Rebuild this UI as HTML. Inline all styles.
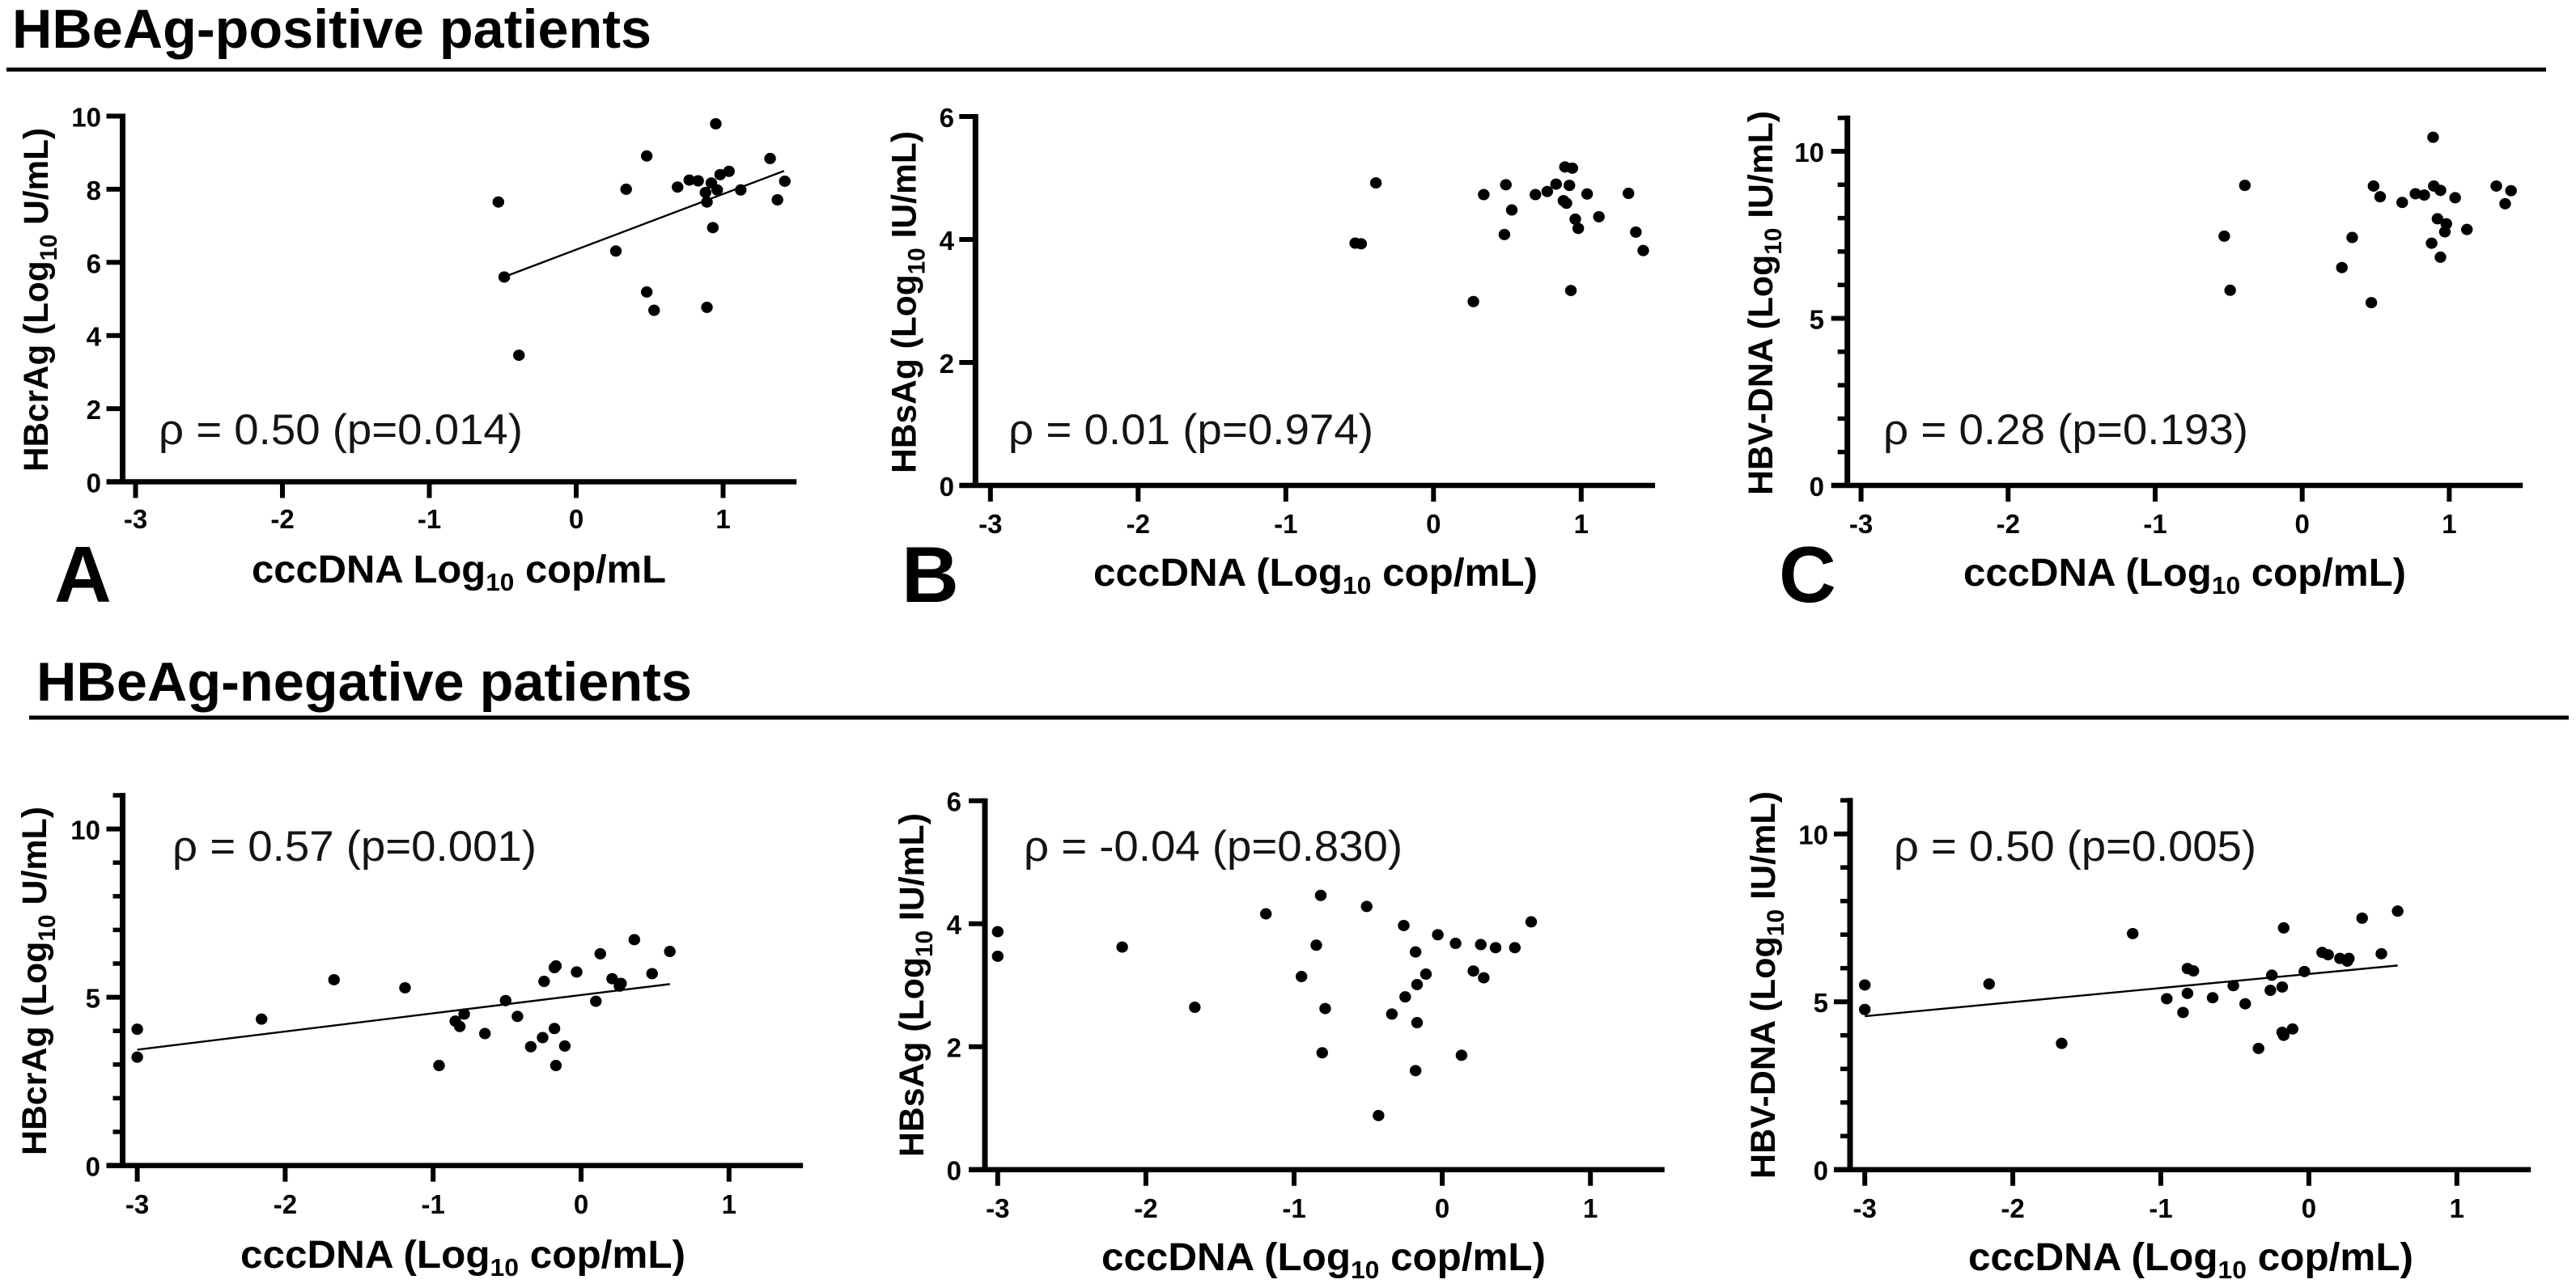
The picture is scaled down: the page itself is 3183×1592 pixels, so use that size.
<!DOCTYPE html>
<html lang="en">
<head>
<meta charset="utf-8">
<title>cccDNA correlations</title>
<style>
html,body{margin:0;padding:0;background:#fff;}
svg{display:block;}
text{font-family:"Liberation Sans",sans-serif;fill:#000;}
.head{font-weight:700;font-size:68px;}
.letter{font-weight:700;font-size:98px;}
.axt{font-weight:700;font-size:48px;}
.ayt{font-weight:700;font-size:43px;}
.axt tspan.sub{font-size:31px;}
.ayt tspan.sub{font-size:30px;}
.rho{font-size:53px;fill:#141414;}
.tick{font-weight:700;font-size:33px;}
</style>
</head>
<body>
<svg id="fig" xmlns="http://www.w3.org/2000/svg" width="3183" height="1592" viewBox="0 0 3183 1592">
<rect x="0" y="0" width="3183" height="1592" fill="#fff"/>

<text class="head" x="15" y="59" textLength="790" lengthAdjust="spacingAndGlyphs">HBeAg-positive patients</text>
<rect x="8" y="83.5" width="3138" height="5" fill="#000"/>
<text class="head" x="45" y="866" textLength="810" lengthAdjust="spacingAndGlyphs">HBeAg-negative patients</text>
<rect x="36" y="884.5" width="3138" height="5" fill="#000"/>

<text class="letter" x="67" y="744">A</text>
<text class="letter" x="1114" y="744">B</text>
<text class="letter" x="2198" y="744">C</text>

<text class="axt" x="311" y="720" textLength="512" lengthAdjust="spacingAndGlyphs">cccDNA Log<tspan class="sub" dy="10">10</tspan><tspan dy="-10"> cop/mL</tspan></text>
<text class="axt" x="1351" y="724" textLength="549" lengthAdjust="spacingAndGlyphs">cccDNA (Log<tspan class="sub" dy="10">10</tspan><tspan dy="-10"> cop/mL)</tspan></text>
<text class="axt" x="2426" y="724" textLength="547" lengthAdjust="spacingAndGlyphs">cccDNA (Log<tspan class="sub" dy="10">10</tspan><tspan dy="-10"> cop/mL)</tspan></text>
<text class="axt" x="297" y="1567" textLength="550" lengthAdjust="spacingAndGlyphs">cccDNA (Log<tspan class="sub" dy="10">10</tspan><tspan dy="-10"> cop/mL)</tspan></text>
<text class="axt" x="1361" y="1570" textLength="549" lengthAdjust="spacingAndGlyphs">cccDNA (Log<tspan class="sub" dy="10">10</tspan><tspan dy="-10"> cop/mL)</tspan></text>
<text class="axt" x="2432" y="1570" textLength="550" lengthAdjust="spacingAndGlyphs">cccDNA (Log<tspan class="sub" dy="10">10</tspan><tspan dy="-10"> cop/mL)</tspan></text>

<text class="ayt" transform="translate(59,583) rotate(-90)" x="0" y="0" textLength="425" lengthAdjust="spacingAndGlyphs">HBcrAg (Log<tspan class="sub" dy="11">10</tspan><tspan dy="-11"> U/mL)</tspan></text>
<text class="ayt" transform="translate(1131.5,585) rotate(-90)" x="0" y="0" textLength="423" lengthAdjust="spacingAndGlyphs">HBsAg (Log<tspan class="sub" dy="11">10</tspan><tspan dy="-11"> IU/mL)</tspan></text>
<text class="ayt" transform="translate(2190,612) rotate(-90)" x="0" y="0" textLength="475" lengthAdjust="spacingAndGlyphs">HBV-DNA (Log<tspan class="sub" dy="11">10</tspan><tspan dy="-11"> IU/mL)</tspan></text>
<text class="ayt" transform="translate(57,1428) rotate(-90)" x="0" y="0" textLength="431" lengthAdjust="spacingAndGlyphs">HBcrAg (Log<tspan class="sub" dy="11">10</tspan><tspan dy="-11"> U/mL)</tspan></text>
<text class="ayt" transform="translate(1141,1430) rotate(-90)" x="0" y="0" textLength="425" lengthAdjust="spacingAndGlyphs">HBsAg (Log<tspan class="sub" dy="11">10</tspan><tspan dy="-11"> IU/mL)</tspan></text>
<text class="ayt" transform="translate(2193,1457) rotate(-90)" x="0" y="0" textLength="479" lengthAdjust="spacingAndGlyphs">HBV-DNA (Log<tspan class="sub" dy="11">10</tspan><tspan dy="-11"> IU/mL)</tspan></text>

<text class="rho" x="196" y="549" textLength="450" lengthAdjust="spacingAndGlyphs">ρ = 0.50 (p=0.014)</text>
<text class="rho" x="1246" y="549" textLength="451" lengthAdjust="spacingAndGlyphs">ρ = 0.01 (p=0.974)</text>
<text class="rho" x="2327" y="549" textLength="451" lengthAdjust="spacingAndGlyphs">ρ = 0.28 (p=0.193)</text>
<text class="rho" x="213" y="1064" textLength="450" lengthAdjust="spacingAndGlyphs">ρ = 0.57 (p=0.001)</text>
<text class="rho" x="1265" y="1064" textLength="468" lengthAdjust="spacingAndGlyphs">ρ = -0.04 (p=0.830)</text>
<text class="rho" x="2340" y="1064" textLength="448" lengthAdjust="spacingAndGlyphs">ρ = 0.50 (p=0.005)</text>
</svg>

<script>
// Shared tick labels
const xTickValues = [-3, -2, -1, 0, 1];
const yTicksA = [0, 2, 4, 6, 8, 10];
const yTicksB = [0, 2, 4, 6];
const yTicksC = [0, 5, 10];
const yMinorC = [1, 2, 3, 4, 6, 7, 8, 9, 11];

// Panel A: HBcrAg vs cccDNA, HBeAg-positive
const aCccdna = [-0.53,-0.49,-0.39,0.27,0.34,0.48,0.48,0.53,0.69,0.77,0.83,0.88,0.89,0.89,0.92,0.93,0.95,0.96,0.98,1.04,1.12,1.32,1.37,1.42];
const aHbcrag = [7.65,5.60,3.46,6.31,8.00,8.91,5.19,4.69,8.06,8.25,8.23,7.91,7.65,4.77,8.17,6.95,9.79,7.98,8.40,8.49,7.98,8.84,7.71,8.22];
const aFitX = [-0.525, 1.415];
const aFitY = [5.55, 8.50];

// Panel B: HBsAg vs cccDNA, HBeAg-positive
const bCccdna = [-0.53,-0.49,-0.39,0.27,0.34,0.49,0.48,0.53,0.69,0.77,0.83,0.88,0.90,0.89,0.92,0.93,0.94,0.96,0.98,1.04,1.12,1.32,1.37,1.42];
const bHbsag = [3.94,3.93,4.92,2.99,4.73,4.89,4.08,4.48,4.73,4.78,4.90,4.63,4.59,5.18,4.88,3.17,5.16,4.33,4.18,4.74,4.37,4.75,4.12,3.82];

// Panel C: HBV-DNA vs cccDNA, HBeAg-positive
const cCccdna = [-0.53,-0.49,-0.39,0.27,0.34,0.485,0.47,0.53,0.68,0.77,0.83,0.88,0.89,0.895,0.94,0.94,0.92,0.98,0.97,1.04,1.12,1.32,1.38,1.42];
const cHbvdna = [7.46,5.84,8.98,6.52,7.42,8.96,5.47,8.64,8.47,8.73,8.69,7.25,10.42,8.96,6.83,8.83,7.98,7.83,7.59,8.61,7.66,8.96,8.43,8.82];

// Panel D: HBcrAg vs cccDNA, HBeAg-negative
const dCccdna = [-3,-3,-2.16,-1.67,-1.19,-0.96,-0.85,-0.82,-0.79,-0.65,-0.51,-0.43,-0.34,-0.26,-0.25,-0.18,-0.18,-0.17,-0.17,-0.11,-0.03,0.10,0.13,0.21,0.26,0.27,0.36,0.48,0.60];
const dHbcrag = [4.05,3.22,4.35,5.52,5.28,2.97,4.29,4.13,4.50,3.92,4.90,4.43,3.53,3.80,5.47,4.07,5.88,5.93,2.97,3.55,5.75,4.88,6.29,5.55,5.33,5.41,6.71,5.70,6.36];
const dFitX = [-3, 0.6];
const dFitY = [3.44, 5.39];

// Panel E: HBsAg vs cccDNA, HBeAg-negative
const eCccdna = [-3,-3,-2.16,-1.67,-1.19,-0.95,-0.85,-0.82,-0.81,-0.79,-0.51,-0.43,-0.34,-0.26,-0.25,-0.18,-0.17,-0.18,-0.17,-0.11,-0.03,0.09,0.13,0.21,0.28,0.26,0.36,0.49,0.60];
const eHbsag = [3.87,3.47,3.62,2.64,4.16,3.14,3.65,4.46,1.90,2.62,4.28,0.88,2.53,3.97,2.81,3.54,2.39,1.61,3.01,3.18,3.82,3.68,1.86,3.23,3.12,3.66,3.61,3.61,4.03];

// Panel F: HBV-DNA vs cccDNA, HBeAg-negative
const fCccdna = [-3,-3,-2.16,-1.67,-1.19,-0.96,-0.85,-0.82,-0.82,-0.78,-0.65,-0.51,-0.43,-0.34,-0.26,-0.25,-0.18,-0.17,-0.18,-0.17,-0.11,-0.03,0.09,0.13,0.21,0.26,0.27,0.36,0.49,0.60];
const fHbvdna = [5.50,4.77,5.53,3.76,7.03,5.09,4.68,5.25,5.99,5.92,5.12,5.48,4.94,3.61,5.34,5.79,5.44,7.20,4.09,4.00,4.19,5.90,6.47,6.40,6.29,6.21,6.29,7.49,6.43,7.70];
const fFitX = [-3, 0.6];
const fFitY = [4.57, 6.08];

const fig = document.getElementById('fig');
const NS = 'http://www.w3.org/2000/svg';

function make(tag, parent) {
  const el = document.createElementNS(NS, tag);
  parent.appendChild(el);
  return el;
}

function segment(parent, x1, y1, x2, y2, width) {
  const l = make('line', parent);
  l.setAttribute('x1', x1);
  l.setAttribute('y1', y1);
  l.setAttribute('x2', x2);
  l.setAttribute('y2', y2);
  l.setAttribute('stroke', '#000');
  l.setAttribute('stroke-width', width);
  return l;
}

function drawPanel(p) {
  const sx = v => p.xZero + v * p.xUnit;
  const sy = v => p.yZero - v * p.yUnit;

  const g = make('g', fig);
  
  

  const yAxis = segment(g, p.axisX, sy(p.yMax) - 3, p.axisX, p.yZero + 3, 7);
  
  

  const xAxis = segment(g, p.axisX - 20, p.yZero, sx(1.5), p.yZero, 6.5);
  
  

  xTickValues.forEach(v => {
    const t = segment(g, sx(v), p.yZero, sx(v), p.yZero + 20, 6);
    
    
    const lab = make('text', g);
    lab.setAttribute('class', 'tick');
    lab.setAttribute('x', sx(v));
    lab.setAttribute('y', p.xLabelY);
    lab.setAttribute('text-anchor', 'middle');
    lab.textContent = String(v);
    
    
  });

  p.yTicks.forEach(v => {
    const y = sy(v);
    if (v > 0) {
      const t = segment(g, p.axisX - 20, y, p.axisX, y, 6);
      
      
    }
    const lab = make('text', g);
    lab.setAttribute('class', 'tick');
    lab.setAttribute('x', p.yLabelRight);
    lab.setAttribute('y', y + 13);
    lab.setAttribute('text-anchor', 'end');
    lab.textContent = String(v);
    
    
  });

  p.yMinor.forEach(v => {
    const y = sy(v);
    const t = segment(g, p.axisX - 12, y, p.axisX, y, 5.5);
    
    
  });

  if (p.fitX) {
    const fit = segment(g, sx(p.fitX[0]), sy(p.fitY[0]), sx(p.fitX[1]), sy(p.fitY[1]), 2.4);
    
    
  }

  p.xs.forEach((xv, i) => {
    const c = make('ellipse', g);
    c.setAttribute('cx', sx(xv));
    c.setAttribute('cy', sy(p.ys[i]));
    c.setAttribute('rx', 7.2);
    c.setAttribute('ry', 7);
    c.setAttribute('fill', '#000');
    
    
  });
}

drawPanel({ id: 'a', xs: aCccdna, ys: aHbcrag, fitX: aFitX, fitY: aFitY, yTicks: yTicksA, yMinor: [], yMax: 10,
  xZero: 712, xUnit: 181.5, yZero: 595.5, yUnit: 45.2, axisX: 151.5, xLabelY: 653, yLabelRight: 125 });
drawPanel({ id: 'b', xs: bCccdna, ys: bHbsag, yTicks: yTicksB, yMinor: [], yMax: 6,
  xZero: 1771.3, xUnit: 182.5, yZero: 600, yUnit: 76, axisX: 1205.3, xLabelY: 659, yLabelRight: 1179 });
drawPanel({ id: 'c', xs: cCccdna, ys: cHbvdna, yTicks: yTicksC, yMinor: yMinorC, yMax: 11,
  xZero: 2844.7, xUnit: 181.7, yZero: 600, yUnit: 41.3, axisX: 2282.7, xLabelY: 659, yLabelRight: 2254 });
drawPanel({ id: 'd', xs: dCccdna, ys: dHbcrag, fitX: dFitX, fitY: dFitY, yTicks: yTicksC, yMinor: yMinorC, yMax: 11,
  xZero: 718, xUnit: 182.8, yZero: 1440.6, yUnit: 41.6, axisX: 151.5, xLabelY: 1500, yLabelRight: 124 });
drawPanel({ id: 'e', xs: eCccdna, ys: eHbsag, yTicks: yTicksB, yMinor: [], yMax: 6,
  xZero: 1782.1, xUnit: 183.1, yZero: 1445.7, yUnit: 76.0, axisX: 1217, xLabelY: 1505, yLabelRight: 1188 });
drawPanel({ id: 'f', xs: fCccdna, ys: fHbvdna, fitX: fFitX, fitY: fFitY, yTicks: yTicksC, yMinor: yMinorC, yMax: 11,
  xZero: 2852.9, xUnit: 182.9, yZero: 1445.7, yUnit: 41.5, axisX: 2286, xLabelY: 1505, yLabelRight: 2259 });
</script>
</body>
</html>
